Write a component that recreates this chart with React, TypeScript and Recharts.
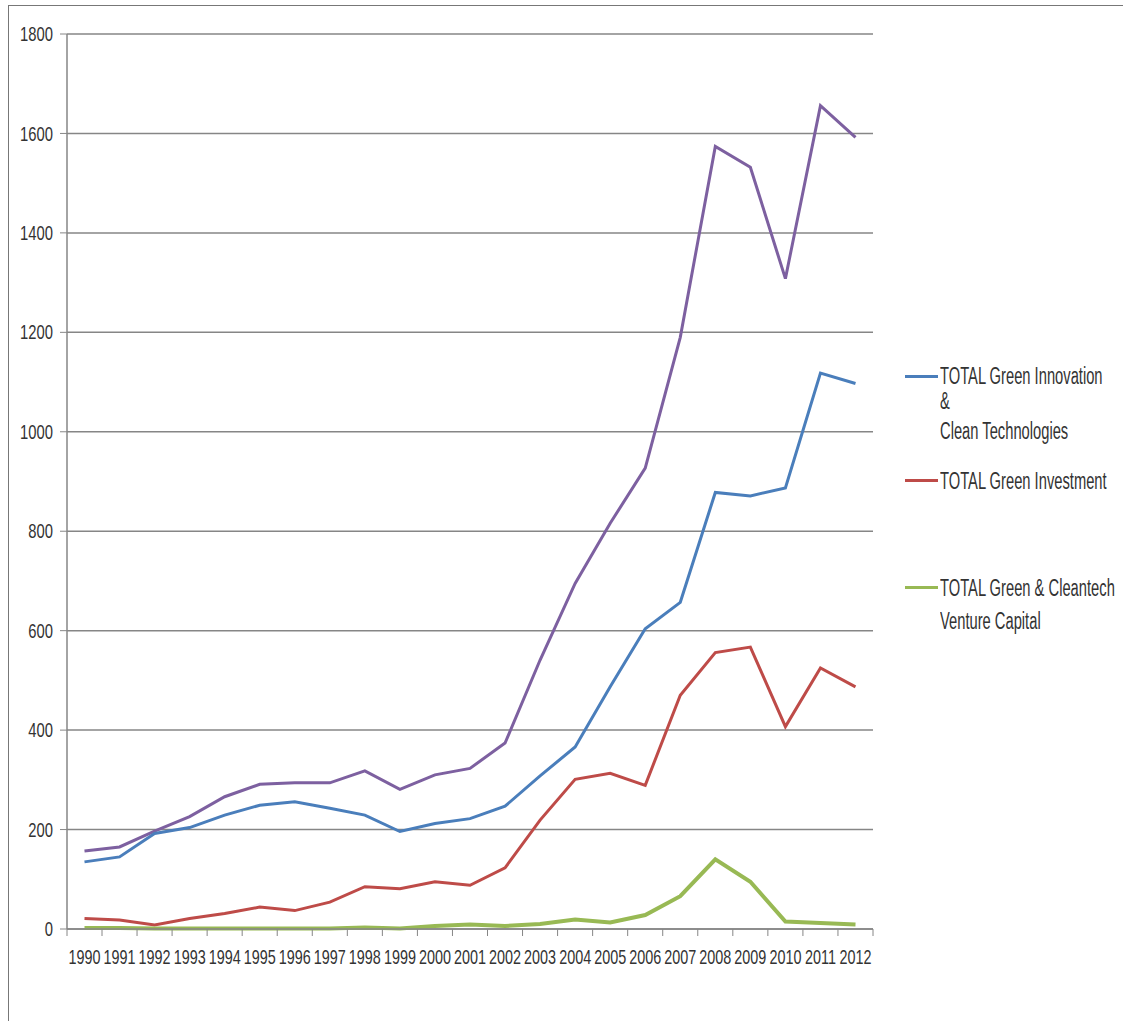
import { LineChart, Line, XAxis, YAxis, CartesianGrid, Legend } from 'recharts'

const years = ['1990', '1991', '1992', '1993', '1994', '1995', '1996', '1997', '1998', '1999', '2000', '2001', '2002', '2003', '2004', '2005', '2006', '2007', '2008', '2009', '2010', '2011', '2012']
const innovation = [135, 145, 192, 204, 229, 249, 256, 243, 229, 196, 212, 222, 247, 308, 366, 487, 604, 657, 878, 871, 887, 1118, 1097]
const investment = [21, 18, 8, 21, 31, 44, 37, 54, 85, 81, 95, 88, 123, 219, 301, 313, 289, 470, 556, 567, 407, 525, 487]
const venture = [2, 2, 1, 1, 1, 1, 1, 1, 3, 1, 6, 9, 6, 10, 19, 13, 28, 66, 140, 95, 15, 12, 9]
const total = [157, 165, 197, 226, 266, 291, 294, 294, 318, 281, 310, 323, 374, 541, 695, 816, 927, 1190, 1574, 1532, 1308, 1656, 1592]
const yTicks = [0, 200, 400, 600, 800, 1000, 1200, 1400, 1600, 1800]

const data = years.map((year, i) => ({
  year,
  innovation: innovation[i],
  investment: investment[i],
  venture: venture[i],
  total: total[i]
}))

const FONT = "'Liberation Sans', Arial, sans-serif"
const AXIS = '#868686'
const TEXT = '#333'
const HALF = 17.5
const X_MARGIN = 21

// legend entries: swatch y and text line centres are in page pixels
const legendItems = [
  { color: '#4A7EBB', lines: ['TOTAL Green Innovation', '&', 'Clean Technologies'] },
  { color: '#BE4B48', lines: ['TOTAL Green Investment'] },
  { color: '#98B954', lines: ['TOTAL Green & Cleantech', 'Venture Capital'] }
]
const legendSwatchY = [376, 480, 587]
const legendLineY = [[376, 401, 431], [481], [588, 621]]

function XTick(props: any) {
  const { x, y, payload, index } = props
  const axisY = y - X_MARGIN
  return (
    <g>
      {index === 0 && <line x1={x - HALF} y1={axisY} x2={x - HALF} y2={axisY + 7} stroke={AXIS} />}
      <line x1={x + HALF} y1={axisY} x2={x + HALF} y2={axisY + 7} stroke={AXIS} />
      <text transform={`translate(${x},${y}) scale(0.72,1)`} dy="0.71em" textAnchor="middle" fontSize={20} fontFamily={FONT} fill={TEXT}>
        {payload.value}
      </text>
    </g>
  )
}

function YTick(props: any) {
  const { x, y, payload } = props
  return (
    <text transform={`translate(${x},${y}) scale(0.74,1)`} dy="0.355em" textAnchor="end" fontSize={20} fontFamily={FONT} fill={TEXT}>
      {payload.value}
    </text>
  )
}

function LegendBox() {
  return (
    <div style={{ position: 'relative', width: 218, height: 700, fontFamily: FONT, fontSize: 23, color: TEXT }}>
      {legendItems.map((item, i) => (
        <div key={item.lines[0]}>
          <div style={{ position: 'absolute', left: 0, top: legendSwatchY[i] - 1.5, width: 33, height: 3, background: item.color }} />
          {item.lines.map((t, j) => (
            <div
              key={t}
              style={{
                position: 'absolute',
                left: 35,
                top: legendLineY[i][j] - 11.6,
                lineHeight: '24px',
                whiteSpace: 'nowrap',
                transform: 'scaleX(0.64)',
                transformOrigin: 'left center'
              }}
            >
              {t}
            </div>
          ))}
        </div>
      ))}
    </div>
  )
}

export default function App() {
  return (
    <div style={{ position: 'absolute', left: 0, top: 0, width: 1123, height: 1021, background: '#fff' }}>
      <div style={{ position: 'absolute', left: 8, top: 5, right: 0, bottom: 0, borderTop: '1.5px solid #777', borderLeft: '1.5px solid #777' }} />
      <div style={{ position: 'absolute', left: 0, top: 0 }}>
        <LineChart width={1123} height={1021} data={data} margin={{ top: 34, right: 250, bottom: 52, left: 7 }}>
          <CartesianGrid vertical={false} stroke={AXIS} strokeWidth={1.5} />
          <XAxis
            dataKey="year"
            interval={0}
            height={40}
            padding={{ left: HALF, right: HALF }}
            axisLine={{ stroke: AXIS, strokeWidth: 1.5 }}
            tickLine={false}
            tickSize={0}
            tickMargin={X_MARGIN}
            tick={<XTick />}
          />
          <YAxis
            width={60}
            domain={[0, 1800]}
            ticks={yTicks}
            interval={0}
            axisLine={{ stroke: AXIS, strokeWidth: 1.5 }}
            tickLine={{ stroke: AXIS }}
            tickSize={7}
            tickMargin={7}
            tick={<YTick />}
          />
          <Legend
            layout="horizontal"
            align="center"
            verticalAlign="middle"
            wrapperStyle={{ left: 905, top: 0, width: 218 }}
            content={<LegendBox />}
          />
          <Line type="linear" dataKey="total" stroke="#7D60A0" strokeWidth={3} dot={false} isAnimationActive={false} legendType="none" />
          <Line type="linear" dataKey="investment" stroke="#BE4B48" strokeWidth={3} dot={false} isAnimationActive={false} />
          <Line type="linear" dataKey="innovation" stroke="#4A7EBB" strokeWidth={3} dot={false} isAnimationActive={false} />
          <Line type="linear" dataKey="venture" stroke="#98B954" strokeWidth={4} dot={false} isAnimationActive={false} />
        </LineChart>
      </div>
    </div>
  )
}
